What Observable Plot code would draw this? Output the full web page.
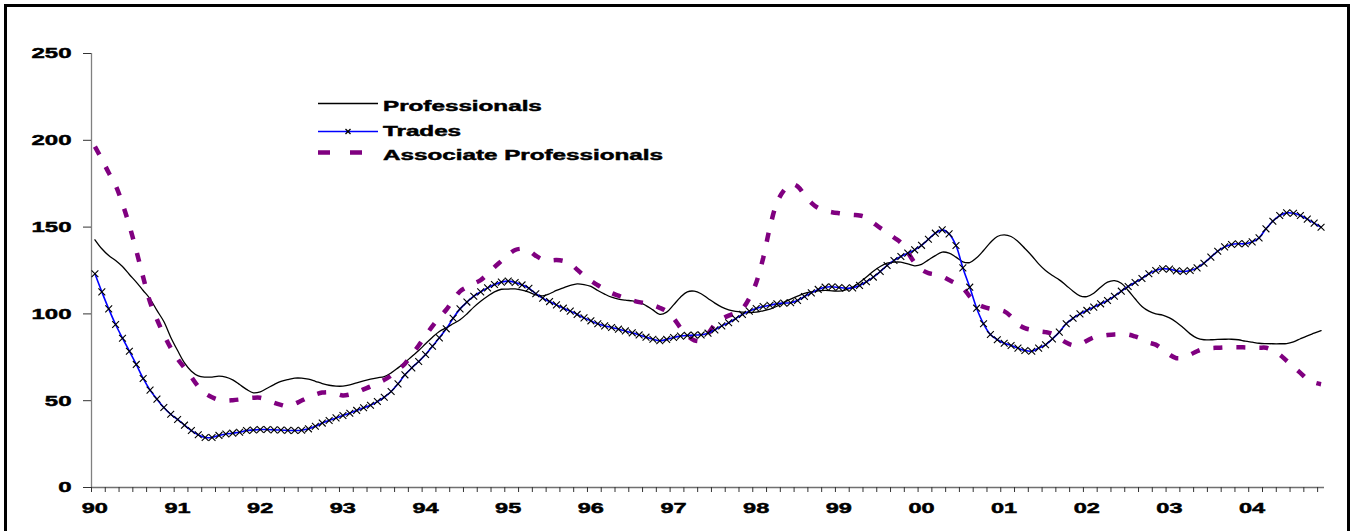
<!DOCTYPE html>
<html><head><meta charset="utf-8">
<script src="https://cdn.jsdelivr.net/npm/d3@7"></script>
<script src="https://cdn.jsdelivr.net/npm/@observablehq/plot@0.6"></script>
<style>
body{margin:0;background:#fff;overflow:hidden;font-family:"Liberation Sans",Arial,sans-serif;}
#wrap{position:relative;width:1353px;height:531px;overflow:hidden;background:#fff;}
#wrap svg.plot{position:absolute;left:0;top:0;}
#frame{position:absolute;left:4px;top:4px;width:1340px;height:600px;border:3px solid #000;pointer-events:none;}
#legend{position:absolute;left:318px;top:94px;}
.row{position:relative;height:24.5px;width:400px;}
.row svg{position:absolute;left:0;top:0;}
.row span{position:absolute;left:65px;top:0;line-height:24.5px;font-size:14px;font-weight:bold;color:#000;-webkit-text-stroke:0.45px #000;transform:scaleX(1.73);transform-origin:left center;white-space:nowrap;}
</style>
</head><body>
<div id="wrap"><div id="legend"></div><div id="frame"></div></div>
<script>
// ---- data (monthly, Jan 1990 .. Nov 2004) ----
const yearLabels = ["90","91","92","93","94","95","96","97","98","99","00","01","02","03","04"];
const yTicks = [0, 50, 100, 150, 200, 250];
const seriesNames = ["Professionals", "Trades", "Associate Professionals"];

const professionals = [
142.7,137.5,133.6,130.8,127.3,122.7,118.3,113.5,108.7,102.0,95.6,86.6,
78.9,71.8,67.0,64.3,63.6,63.6,64.1,63.6,62.0,59.3,56.5,54.5,
55.1,57.2,59.3,61.1,62.2,63.0,63.0,62.4,61.2,59.9,58.9,58.4,
58.4,59.1,60.3,61.4,62.4,63.2,63.9,66.0,68.9,72.0,75.5,78.9,
82.8,86.6,89.9,92.0,94.3,96.6,100.0,103.9,107.3,110.2,112.7,114.2,
114.3,114.4,113.7,112.5,111.0,110.4,111.6,113.5,115.0,116.4,117.3,116.9,
115.8,113.5,111.4,109.6,108.5,107.9,107.5,106.8,104.8,102.3,99.7,101.0,
105.2,109.6,112.7,113.1,111.6,108.9,106.2,103.9,102.3,101.4,101.0,100.8,
101.0,101.8,102.7,104.4,106.6,108.5,110.2,111.8,112.7,113.3,113.5,113.3,
113.1,113.9,115.4,118.1,121.2,124.6,127.3,129.2,129.8,129.8,128.8,127.7,
128.5,131.1,133.6,135.6,135.0,132.7,130.0,129.6,132.3,136.5,141.1,144.6,
145.5,144.6,141.7,137.7,133.5,128.8,125.0,122.1,119.6,116.4,113.1,110.4,
110.0,111.9,115.4,118.3,119.2,117.7,113.5,108.7,104.3,101.6,100.0,99.3,
97.7,95.2,92.0,88.5,86.0,85.1,85.1,85.3,85.4,85.4,85.1,84.3,
83.7,83.1,82.9,82.8,82.8,82.9,83.9,85.7,87.4,88.9,90.4];

const trades = [
123.1,112.7,102.9,93.9,86.0,78.5,70.9,62.8,56.1,50.9,46.1,42.2,
39.2,35.9,32.8,30.4,28.8,28.8,30.0,30.8,31.3,31.8,32.8,33.1,
33.4,33.4,33.2,33.1,32.9,32.8,33.0,33.8,35.3,37.1,38.6,40.1,
41.5,42.8,44.4,45.9,47.4,49.5,52.0,55.3,59.7,64.9,68.9,72.6,
76.6,81.4,86.2,91.4,97.5,102.9,106.8,110.2,112.7,115.0,116.9,118.3,
118.9,118.1,116.7,114.8,111.6,109.1,107.1,105.2,103.3,101.6,99.7,97.7,
96.0,94.3,93.1,92.2,91.2,90.2,89.1,87.9,86.6,85.4,84.5,85.3,
86.4,87.2,87.6,87.8,87.9,88.9,90.8,93.1,94.9,97.2,99.7,101.6,
103.1,104.3,105.0,105.8,106.2,106.4,107.7,110.0,112.1,114.1,115.4,115.6,
115.2,114.8,115.0,116.4,118.5,121.2,124.4,127.9,130.8,133.1,135.0,136.9,
139.5,143.0,146.5,148.4,146.1,139.4,126.5,115.4,103.3,94.3,88.1,85.1,
83.1,81.8,80.3,78.9,78.5,80.3,82.2,85.6,89.5,94.3,97.5,100.0,
102.0,103.9,105.8,107.7,110.2,113.1,115.8,118.1,120.4,123.1,125.0,126.0,
125.8,124.8,124.4,125.0,126.5,129.2,132.7,136.1,138.6,140.0,140.4,140.4,
141.5,143.8,149.0,153.4,156.7,158.2,158.0,156.7,154.6,152.3,149.9];

const associate = [
196.4,189.1,181.3,174.0,163.4,150.9,136.5,121.2,106.8,96.8,88.1,80.4,
74.1,68.9,63.6,58.2,54.3,52.0,50.5,50.1,50.3,50.7,51.3,51.7,
51.7,50.5,48.8,47.6,46.8,48.2,50.1,52.0,53.6,54.7,54.9,54.0,
53.0,53.6,54.7,56.5,58.2,60.1,62.0,64.5,67.8,71.3,76.5,81.8,
87.5,93.0,98.0,102.4,108.0,113.0,115.5,117.5,119.5,123.0,127.0,130.5,
134.0,136.8,137.5,136.5,133.5,131.3,130.8,131.0,130.5,129.0,125.5,122.0,
119.0,116.5,114.0,112.0,110.5,109.0,107.8,106.8,106.0,105.0,103.5,101.5,
97.5,92.0,87.5,84.8,84.5,88.5,94.0,97.0,99.0,100.5,103.0,109.0,
118.0,132.0,150.0,164.0,171.0,174.8,173.5,168.5,164.0,161.0,159.5,158.6,
158.0,157.5,157.0,156.7,155.5,152.5,149.5,147.0,144.0,141.0,135.5,129.5,
125.5,123.5,122.7,121.5,119.5,117.5,115.0,110.0,106.0,104.0,103.0,102.3,
101.5,98.5,94.0,91.8,90.8,90.0,89.5,88.5,86.0,83.5,82.0,82.5,
84.5,86.5,87.2,87.8,88.2,88.3,88.1,87.0,85.5,83.5,82.3,79.5,
76.5,74.5,74.8,76.5,78.5,79.9,80.3,80.5,80.7,80.8,80.8,80.7,
80.6,80.5,80.5,79.0,76.5,73.0,69.5,66.0,62.4,60.5,59.5];

// ---- styles ----
const styles = {
  "Professionals": {stroke: "#000000", strokeWidth: 1.3},
  "Trades": {stroke: "#0000ff", strokeWidth: 1.6},
  "Associate Professionals": {stroke: "#800080", strokeWidth: 4.5, dash: "9,14"}
};

const nCat = professionals.length; // 179 categories
const toRows = (arr) => arr.map((v, i) => ({x: i + 0.5, y: v}));
const profRows = toRows(professionals);
const tradeRows = toRows(trades);
const assocRows = toRows(associate);

const minorTicks = d3.range(0, nCat, 2);
const labelTicks = yearLabels.map((_, k) => k * 12 + 0.5);

const svg = Plot.plot({
  width: 1353, height: 531,
  marginLeft: 91, marginRight: 29, marginTop: 53, marginBottom: 44,
  x: {domain: [0, nCat]},
  y: {domain: [0, 250]},
  style: {fontFamily: "'Liberation Sans', Arial, sans-serif", fontWeight: "bold", background: "transparent", color: "#000"},
  marks: [
    Plot.ruleX([0], {stroke: "#808080", strokeWidth: 1.3}),
    Plot.ruleY([0], {stroke: "#707070", strokeWidth: 1.3}),
    Plot.axisY({ticks: yTicks, tickSize: 8, tickPadding: 12, fontSize: 15, stroke: "#333", label: null, tickFormat: d => String(d)}),
    Plot.axisX({ticks: minorTicks, tickSize: 5, tickFormat: () => "", stroke: "#333", label: null}),
    Plot.axisX({ticks: labelTicks, tickSize: 0, tickPadding: 16, fontSize: 14, label: null,
      tickFormat: d => yearLabels[Math.round((d - 0.5) / 12)]}),
    Plot.line(profRows, {x: "x", y: "y", stroke: styles["Professionals"].stroke, strokeWidth: styles["Professionals"].strokeWidth, curve: "catmull-rom"}),
    Plot.line(assocRows, {x: "x", y: "y", stroke: styles["Associate Professionals"].stroke, strokeWidth: styles["Associate Professionals"].strokeWidth, strokeDasharray: styles["Associate Professionals"].dash, strokeLinecap: "butt", strokeLinejoin: "miter", curve: "catmull-rom"}),
    Plot.line(tradeRows, {x: "x", y: "y", stroke: styles["Trades"].stroke, strokeWidth: styles["Trades"].strokeWidth, curve: "catmull-rom"}),
    Plot.dot(tradeRows, {x: "x", y: "y", symbol: "times", r: 3.2, stroke: "#000", strokeWidth: 1.1})
  ]
});
svg.classList.add("plot");
const wrap = document.getElementById("wrap");
wrap.insertBefore(svg, wrap.firstChild);

// stretch tick labels horizontally and thicken them to match the wide, heavy lettering of the original
svg.querySelectorAll("text").forEach(t => {
  if (!t.textContent) return;
  const g = t.closest("g[aria-label]");
  const lab = g ? g.getAttribute("aria-label") : "";
  const s = lab.startsWith("y-axis") ? 1.6 : 1.68;
  const b = t.getBBox();
  const anchor = getComputedStyle(t).textAnchor;
  const ax = anchor === "end" ? b.x + b.width : anchor === "middle" ? b.x + b.width / 2 : b.x;
  const tr = t.getAttribute("transform") || "";
  t.setAttribute("transform", `${tr} translate(${ax},0) scale(${s},1) translate(${-ax},0)`);
  t.setAttribute("stroke", "#000");
  t.setAttribute("stroke-width", "0.45");
});

// legend
const legend = d3.select("#legend");
seriesNames.forEach(name => {
  const st = styles[name];
  const row = legend.append("div").attr("class", "row");
  const sw = row.append("svg").attr("width", 62).attr("height", 25);
  if (name === "Associate Professionals") {
    sw.append("line").attr("x1", 0).attr("x2", 60).attr("y1", 9.5).attr("y2", 9.5)
      .attr("stroke", st.stroke).attr("stroke-width", st.strokeWidth).attr("stroke-dasharray", "12,20");
  } else {
    const yy = name === "Professionals" ? 9.5 : 12.5;
    sw.append("line").attr("x1", 0).attr("x2", 60).attr("y1", yy).attr("y2", yy)
      .attr("stroke", st.stroke).attr("stroke-width", st.strokeWidth);
    if (name === "Trades") {
      sw.append("path").attr("d", "M27.5,10L32.5,15M27.5,15L32.5,10").attr("stroke", "#000").attr("stroke-width", 1.3);
    }
  }
  row.append("span").text(name);
});
</script>
</body></html>
